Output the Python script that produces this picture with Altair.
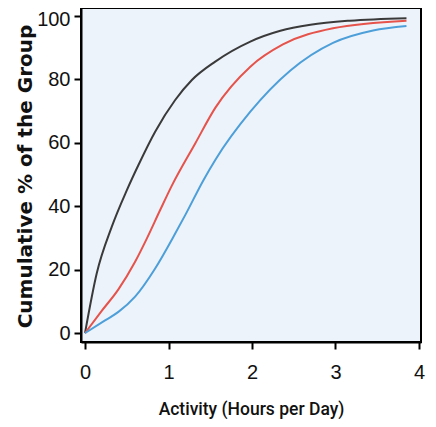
import altair as alt
import pandas as pd

# Activity (hours per day) and cumulative % for each group
black_x = [0, 0.14, 0.32, 0.50, 0.64, 0.84, 1.08, 1.28, 1.56, 1.98, 2.34, 2.70, 3.17, 3.85]
black_y = [0, 18.8, 33.5, 45.0, 53.0, 63.5, 73.5, 79.8, 85.6, 91.9, 95.3, 97.2, 98.5, 99.3]

red_x = [0, 0.20, 0.40, 0.60, 0.74, 0.90, 1.04, 1.32, 1.56, 1.98, 2.37, 2.97, 3.85]
red_y = [0, 7.0, 13.8, 22.5, 29.8, 38.8, 46.5, 59.8, 71.0, 84.0, 91.0, 96.1, 98.5]

blue_x = [0, 0.24, 0.40, 0.60, 0.84, 1.08, 1.20, 1.42, 1.56, 1.98, 2.46, 2.97, 3.45, 3.85]
blue_y = [0, 4.0, 6.7, 11.5, 20.4, 31.4, 37.2, 48.3, 54.6, 69.8, 82.8, 91.5, 95.4, 96.8]

groups = ["A", "B", "C"]
colors = ["#3a3a3a", "#e5534b", "#4d9fd9"]

rows = []
for g, xs, ys in [("A", black_x, black_y), ("B", red_x, red_y), ("C", blue_x, blue_y)]:
    for i, (xv, yv) in enumerate(zip(xs, ys)):
        rows.append({"group": g, "hours": xv, "pct": yv, "order": i})
df = pd.DataFrame(rows)

label_font = "Liberation Sans"

chart = (
    alt.Chart(df)
    .mark_line(strokeWidth=2, interpolate="monotone")
    .encode(
        x=alt.X(
            "hours:Q",
            scale=alt.Scale(domain=[-0.048, 4.024], nice=False, zero=False),
            axis=alt.Axis(
                values=[0, 1, 2, 3, 4],
                title="Activity (Hours per Day)",
                grid=False,
                format="d",
                titleFont="Roboto",
                titleFontSize=17.5,
                titleFontWeight=500,
                titleColor="#111111",
                titleY=72,
                titleBaseline="alphabetic",
                labelPadding=13,
            ),
        ),
        y=alt.Y(
            "pct:Q",
            scale=alt.Scale(domain=[-2.8, 102.5], nice=False, zero=False),
            axis=alt.Axis(
                values=[0, 20, 40, 60, 80, 100],
                title="Cumulative % of the Group",
                grid=False,
                labelOffset={"condition": {"test": "datum.value == 100", "value": 4}, "value": 0},
                labelPadding=4,
                titleFont="DejaVu Sans",
                titleFontSize=20,
                titleFontWeight="bold",
                titleColor="#111111",
                titleAngle=-90,
                titleX=-50,
                titleY=168,
                titleAlign="center",
                titleBaseline="alphabetic",
            ),
        ),
        color=alt.Color(
            "group:N",
            scale=alt.Scale(domain=groups, range=colors),
            legend=None,
        ),
        order="order:Q",
    )
    .properties(
        width=340,
        height=334,
        autosize=alt.AutoSizeParams(type="none"),
        padding={"left": 73, "top": 0, "right": 7, "bottom": 77},
    )
    .configure_view(fill="#edf3fb", stroke="#000000", strokeWidth=2)
    .configure_axis(
        domainColor="#000000",
        domainWidth=2,
        tickColor="#000000",
        tickWidth=2,
        tickSize=7,
        labelFont=label_font,
        labelFontSize=20,
        labelColor="#111111",
    )
)

chart.save("out.html", embed_options={"renderer": "svg", "actions": False})
